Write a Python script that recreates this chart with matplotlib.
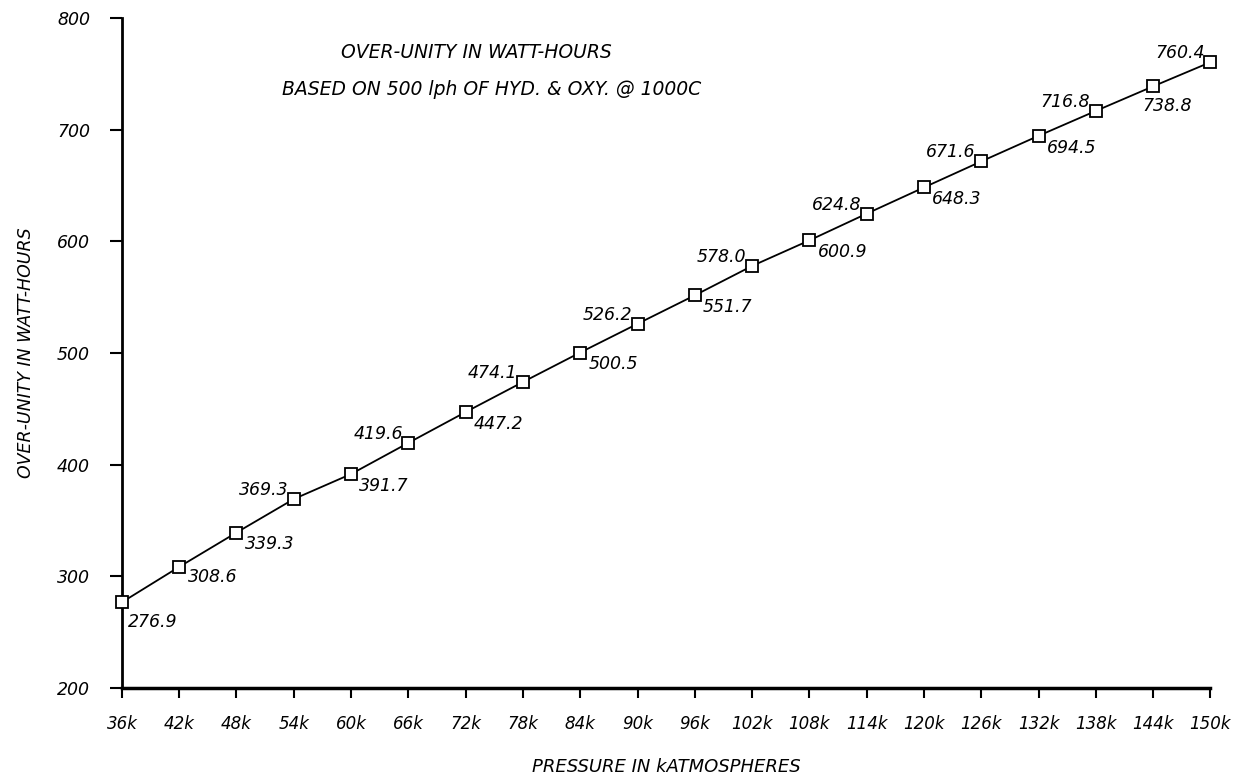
import matplotlib
matplotlib.use("Agg")
import matplotlib.pyplot as plt

# pressure (k atmospheres) and over-unity (watt-hours)
pressure = [36, 42, 48, 54, 60, 66, 72, 78, 84, 90, 96, 102, 108, 114, 120, 126, 132, 138, 144, 150]
watt_hours = [276.9, 308.6, 339.3, 369.3, 391.7, 419.6, 447.2, 474.1, 500.5, 526.2,
              551.7, 578.0, 600.9, 624.8, 648.3, 671.6, 694.5, 716.8, 738.8, 760.4]
x_ticks = pressure
x_tick_labels = [f"{p}k" for p in pressure]
y_ticks = [200, 300, 400, 500, 600, 700, 800]

plt.rcParams["font.family"] = ["DejaVu Sans"]
plt.rcParams["font.style"] = "italic"

fig = plt.figure(figsize=(12.44, 7.82), dpi=100)
ax = fig.add_axes([0.098, 0.120, 0.875, 0.857])

ax.plot(pressure, watt_hours, "-", color="black", lw=1.3, marker="s", ms=8,
        mfc="white", mec="black", mew=1.3, clip_on=False, zorder=3)

# labels mostly alternate: below-right / above-left of the marker
for i, (p, v) in enumerate(zip(pressure, watt_hours)):
    if i == 0:
        off, ha, va = (4, -8), "left", "top"
    elif i == 1:
        off, ha, va = (6, -1), "left", "top"
    elif i == 18:
        off, ha, va = (-8, -8), "left", "top"
    elif i % 2 == 0:
        off, ha, va = (6, -2), "left", "top"
    else:
        off, ha, va = (-4, 0), "right", "bottom"
    ax.annotate(f"{v:.1f}", (p, v), xytext=off, textcoords="offset points",
                ha=ha, va=va, fontsize=12.5, style="italic")

ax.set_xlim(36, 150)
ax.set_ylim(200, 800)
ax.set_xticks(x_ticks)
ax.set_xticklabels(x_tick_labels)
ax.set_yticks(y_ticks)
ax.spines["top"].set_visible(False)
ax.spines["right"].set_visible(False)
ax.spines["left"].set_linewidth(2)
ax.spines["bottom"].set_linewidth(2.5)
ax.tick_params(axis="x", direction="out", length=7, width=1.5, labelsize=12, pad=12)
ax.tick_params(axis="y", direction="out", length=9, width=1.5, labelsize=12.5, pad=14)

ax.set_xlabel("PRESSURE IN kATMOSPHERES", fontsize=13, labelpad=18)
ax.set_ylabel("OVER-UNITY IN WATT-HOURS", fontsize=12.5, labelpad=16)

fig.text(0.383, 0.933, "OVER-UNITY IN WATT-HOURS", ha="center", va="center", fontsize=13.5)
fig.text(0.395, 0.886, "BASED ON 500 lph OF HYD. & OXY. @ 1000C", ha="center", va="center", fontsize=13.5)

fig.savefig("out.png", dpi=100)
